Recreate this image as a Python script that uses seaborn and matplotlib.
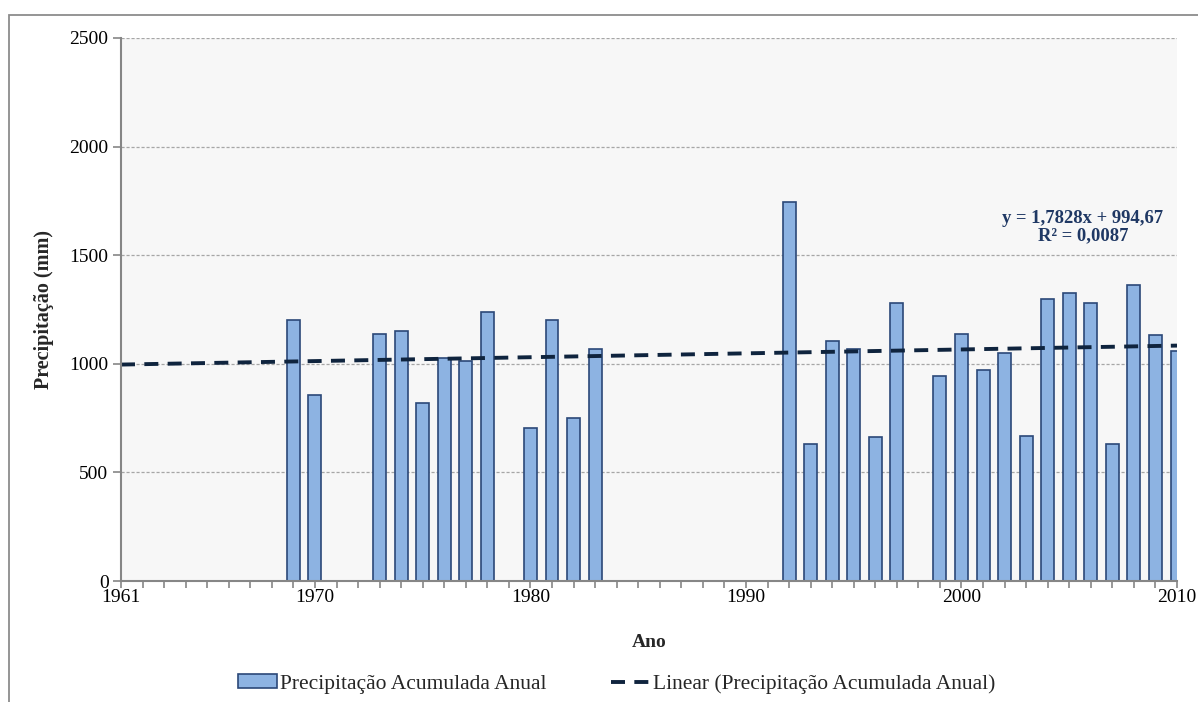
import numpy as np
import pandas as pd
import matplotlib
matplotlib.use("Agg")
import matplotlib.pyplot as plt
from matplotlib.patches import Patch, Rectangle
from matplotlib.lines import Line2D
import seaborn as sns

# anos com dados e precipitacao acumulada anual (mm)
anos = [1969, 1970, 1973, 1974, 1975, 1976, 1977, 1978, 1980, 1981, 1982, 1983,
        1992, 1993, 1994, 1995, 1996, 1997, 1999, 2000, 2001, 2002, 2003, 2004,
        2005, 2006, 2007, 2008, 2009, 2010]
precip = [1200, 858, 1138, 1149, 818, 1026, 1014, 1240, 703, 1200, 749, 1067,
          1743, 632, 1103, 1067, 661, 1281, 946, 1138, 970, 1049, 666, 1297,
          1327, 1281, 632, 1363, 1134, 1058]

# linha de tendencia do Excel (x = 1 para 1961)
ano_ini, ano_fim = 1961, 2010
inclinacao = 1.7828
intercepto = 994.67
r2 = 0.0087

anos_labels = [1961, 1970, 1980, 1990, 2000, 2010]
y_ticks = [0, 500, 1000, 1500, 2000, 2500]

df = pd.DataFrame({"ano": anos, "precip": precip})
anos_trend = np.arange(ano_ini, ano_fim + 1)
trend = pd.DataFrame({"ano": anos_trend,
                      "y": inclinacao * (anos_trend - ano_ini + 1) + intercepto})

sns.set_theme(style="white")
plt.rcParams["font.family"] = ["Liberation Serif", "DejaVu Serif"]

fig = plt.figure(figsize=(11.98, 7.02), dpi=100)
ax = fig.add_axes([121 / 1198, 1 - 581 / 702, 1056 / 1198, 543 / 702])
ax.set_facecolor("#F7F7F7")

bar_col = "#8DB3E2"
edge_col = "#2B4878"
line_col = "#0F243E"

sns.barplot(data=df, x="ano", y="precip", native_scale=True, width=0.6,
            color=bar_col, edgecolor=edge_col, linewidth=1.2, saturation=1,
            ax=ax, zorder=2)
sns.lineplot(data=trend, x="ano", y="y", color=line_col, linewidth=2.8,
             ax=ax, zorder=3)
ax.lines[-1].set_dashes((3.6, 2.4))

ax.set_xlim(ano_ini, ano_fim)
ax.set_ylim(0, 2500)
ax.set_xticks(anos_trend)
ax.set_xticklabels([str(a) if a in anos_labels else "" for a in anos_trend])
ax.set_yticks(y_ticks)
ax.set_yticklabels([str(v) for v in y_ticks])

ax.yaxis.grid(True, color="#A6A6A6", linestyle=(0, (2.5, 1.5)), linewidth=0.9)
ax.xaxis.grid(False)
ax.set_axisbelow(True)

for s in ["top", "right"]:
    ax.spines[s].set_visible(False)
for s in ["left", "bottom"]:
    ax.spines[s].set_color("#868686")
    ax.spines[s].set_linewidth(1.5)
    ax.spines[s].set_zorder(4)

ax.tick_params(axis="both", which="major", direction="out", length=6,
               width=1.2, color="#868686", labelsize=14, labelcolor="black",
               bottom=True, left=True, pad=3)
ax.tick_params(axis="x", length=5, pad=1)

ax.set_xlabel("Ano", fontsize=14, fontweight="bold")
ax.set_ylabel("Precipitação (mm)", fontsize=14.5, fontweight="bold")
ax.xaxis.set_label_coords(0.5, -0.098)
ax.yaxis.set_label_coords(-0.0635, 0.5)

eq = f"y = {inclinacao:.4f}x + {intercepto:.2f}".replace(".", ",")
r2txt = f"R² = {r2:.4f}".replace(".", ",")
ax.text(0.911, 0.652, eq + "\n" + r2txt, transform=ax.transAxes,
        ha="center", va="center", fontsize=13.4, fontweight="bold",
        color="#1F3864", linespacing=1.0, zorder=5)

handles = [Patch(facecolor=bar_col, edgecolor=edge_col, linewidth=1.2),
           Line2D([0], [0], color=line_col, linewidth=2.8, dashes=(3.6, 2.4))]
fig.legend(handles, ["Precipitação Acumulada Anual",
                     "Linear (Precipitação Acumulada Anual)"],
           loc="center", bbox_to_anchor=(0.515, 1 - 684 / 702), ncol=2,
           frameon=False, fontsize=15.5, handlelength=1.8, handleheight=0.6,
           handletextpad=0.15, columnspacing=3.0, borderpad=0)

# borda da area do grafico
fig.patches.append(Rectangle((9 / 1198, -0.05), 1.2, 1 - 15 / 702 + 0.05,
                             transform=fig.transFigure, fill=False,
                             edgecolor="#8C8C8C", linewidth=1.3, zorder=0))

fig.savefig("out.png", dpi=100)
